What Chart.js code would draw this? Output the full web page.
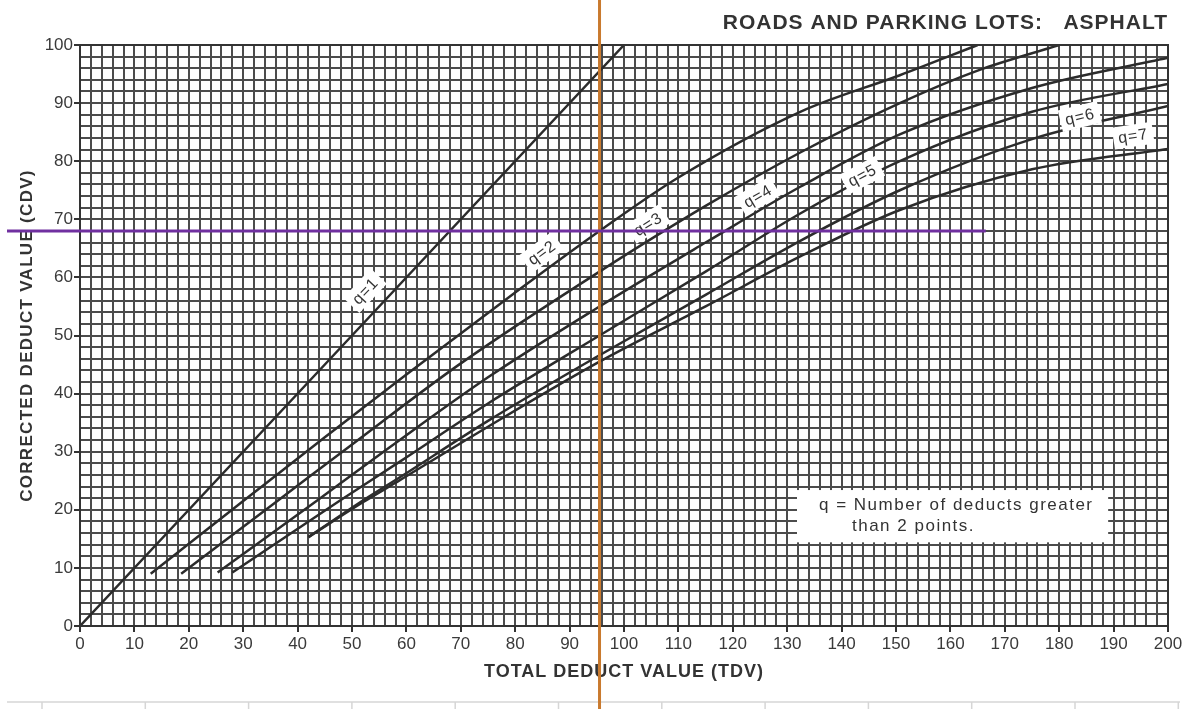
<!DOCTYPE html>
<html>
<head>
<meta charset="utf-8">
<script src="https://cdn.jsdelivr.net/npm/chart.js@4.4.1/dist/chart.umd.min.js"></script>
<style>
  body { margin: 0; background: #fff; }
  #wrap { width: 1204px; height: 709px; position: relative; }
</style>
</head>
<body>
<div id="wrap"><canvas id="mycanvas"></canvas></div>
<script>
// corrected deduct value curves (TDV -> CDV)
var tdvQ1 = [0, 100];
var cdvQ1 = [0, 100];
var tdvQ2 = [13, 30, 45, 60, 80, 95.5, 110, 132.4, 150.7, 165];
var cdvQ2 = [9, 21.5, 32.5, 43.3, 57.4, 68, 77.2, 88.5, 94.8, 100];
var tdvQ3 = [18.6, 36.4, 50.5, 70, 95.5, 115, 132.4, 150.7, 165, 180];
var cdvQ3 = [9, 21.6, 31.6, 45.2, 61, 72.3, 81.5, 90, 95.6, 100];
var tdvQ4 = [25.3, 43.6, 57, 75, 95.5, 115, 132.4, 150.7, 175, 200];
var cdvQ4 = [9.2, 21.6, 30.8, 42.8, 55, 66, 75.6, 84.6, 92.6, 97.8];
var tdvQ5 = [28, 47.8, 58.8, 75, 95.5, 115, 132.4, 150.7, 175, 200];
var cdvQ5 = [9.2, 21.6, 28.3, 38.3, 50, 61, 71, 80, 88.5, 93.3];
var tdvQ6 = [42, 52, 58.8, 75, 95.5, 115, 132.4, 150.7, 175, 200];
var cdvQ6 = [15.3, 21.6, 25.6, 35.3, 46.6, 57, 66.3, 75, 83.8, 89.5];
var tdvQ7 = [42, 52, 58.8, 75, 95.5, 115, 132.4, 150.7, 175, 200];
var cdvQ7 = [15.3, 21.3, 25.1, 34.3, 45.5, 55, 63.6, 71.6, 78.6, 82.1];

var qNames = ['q=1', 'q=2', 'q=3', 'q=4', 'q=5', 'q=6', 'q=7'];
var tdvSets = [tdvQ1, tdvQ2, tdvQ3, tdvQ4, tdvQ5, tdvQ6, tdvQ7];
var cdvSets = [cdvQ1, cdvQ2, cdvQ3, cdvQ4, cdvQ5, cdvQ6, cdvQ7];

// where the curve tags sit (TDV, CDV)
var tagTdv = [52.4, 84.9, 104.4, 124.6, 143.8, 183.8, 193.6];
var tagCdv = [57.7, 64.3, 69.2, 74, 77.6, 87.7, 84.4];

// reading marks drawn over the chart
var markTdv = 95.5;
var markCdv = 68;
var markCdvEnd = 166.5;

var titleText = 'ROADS AND PARKING LOTS:   ASPHALT';
var xTitle = 'TOTAL DEDUCT VALUE (TDV)';
var yTitle = 'CORRECTED DEDUCT VALUE (CDV)';
var noteLines = ['q = Number of deducts greater', 'than 2 points.'];

var FONT = "'Liberation Sans', Arial, Helvetica, sans-serif";

var datasets = [];
for (var i = 0; i < qNames.length; i++) {
  var pts = [];
  for (var j = 0; j < tdvSets[i].length; j++) {
    pts.push({x: tdvSets[i][j], y: cdvSets[i][j]});
  }
  datasets.push({
    label: qNames[i],
    data: pts,
    borderColor: '#2c2c2c',
    borderWidth: 2.5,
    pointRadius: 0,
    fill: false,
    cubicInterpolationMode: 'monotone'
  });
}

function tickLabel(v) {
  return Math.abs(v % 10) < 1e-6 ? v : '';
}

function spacedText(ctx, txt, x, y, spacing) {
  ctx.letterSpacing = spacing + 'px';
  ctx.fillText(txt, x, y);
  ctx.letterSpacing = '0px';
}

var overlay = {
  id: 'overlay',
  beforeDraw: function(chart) {
    var ctx = chart.ctx;
    ctx.save();
    ctx.fillStyle = '#fff';
    ctx.fillRect(0, 0, chart.width, chart.height);
    ctx.restore();
  },
  afterDatasetsDraw: function(chart) {
    var ctx = chart.ctx;
    var xs = chart.scales.x, ys = chart.scales.y;
    var a = chart.chartArea;
    ctx.save();

    // outline of the plot
    ctx.strokeStyle = '#333';
    ctx.lineWidth = 2;
    ctx.strokeRect(a.left, a.top, a.right - a.left, a.bottom - a.top);

    // tags on the curves
    ctx.font = '16px ' + FONT;
    ctx.textAlign = 'center';
    ctx.textBaseline = 'middle';
    for (var i = 0; i < qNames.length; i++) {
      var tx = tdvSets[i], cy = cdvSets[i];
      var k = 0;
      while (k < tx.length - 2 && tx[k + 1] < tagTdv[i]) k++;
      var ang = Math.atan2(ys.getPixelForValue(cy[k + 1]) - ys.getPixelForValue(cy[k]),
                           xs.getPixelForValue(tx[k + 1]) - xs.getPixelForValue(tx[k]));
      var px = xs.getPixelForValue(tagTdv[i]);
      var py = ys.getPixelForValue(tagCdv[i]);
      ctx.save();
      ctx.translate(px, py);
      ctx.rotate(ang);
      ctx.letterSpacing = '1px';
      var w = ctx.measureText(qNames[i]).width;
      ctx.fillStyle = '#fff';
      ctx.fillRect(-w / 2 - 5, -11, w + 10, 22);
      ctx.fillStyle = '#333';
      ctx.fillText(qNames[i], 0, 1);
      ctx.restore();
    }

    // note box
    var bx1 = xs.getPixelForValue(131.8), bx2 = xs.getPixelForValue(189);
    var by1 = ys.getPixelForValue(23.4), by2 = ys.getPixelForValue(14.4);
    ctx.fillStyle = '#fff';
    ctx.fillRect(bx1, by1, bx2 - bx1, by2 - by1);
    ctx.fillStyle = '#333';
    ctx.font = '17px ' + FONT;
    ctx.textAlign = 'left';
    spacedText(ctx, noteLines[0], bx1 + 22, by1 + 15, 1.5);
    spacedText(ctx, noteLines[1], bx1 + 55, by1 + 36, 1.5);

    // titles
    ctx.font = 'bold 21px ' + FONT;
    ctx.textAlign = 'right';
    spacedText(ctx, titleText, a.right, 23, 1);
    ctx.font = 'bold 18px ' + FONT;
    ctx.textAlign = 'center';
    spacedText(ctx, xTitle, (a.left + a.right) / 2, 672, 1);
    ctx.save();
    ctx.translate(27, (a.top + a.bottom) / 2);
    ctx.rotate(-Math.PI / 2);
    ctx.font = 'bold 17px ' + FONT;
    spacedText(ctx, yTitle, 0, 0, 1.3);
    ctx.restore();

    // faint sheet lines under the picture
    ctx.strokeStyle = '#d6d6d6';
    ctx.lineWidth = 1.5;
    ctx.beginPath();
    ctx.moveTo(7, 702);
    ctx.lineTo(1180, 702);
    for (var c = 0; c < 12; c++) {
      var cx = 42 + 103.3 * c;
      ctx.moveTo(cx, 702);
      ctx.lineTo(cx, 709);
    }
    ctx.stroke();

    // reading lines
    var ox = xs.getPixelForValue(markTdv);
    ctx.strokeStyle = '#c97a2e';
    ctx.lineWidth = 3;
    ctx.beginPath();
    ctx.moveTo(ox, 0);
    ctx.lineTo(ox, chart.height);
    ctx.stroke();

    var py2 = ys.getPixelForValue(markCdv);
    ctx.strokeStyle = '#7030a0';
    ctx.beginPath();
    ctx.moveTo(7, py2);
    ctx.lineTo(xs.getPixelForValue(markCdvEnd), py2);
    ctx.stroke();

    ctx.restore();
  }
};

var gridOpts = {
  color: '#4c4c4c',
  lineWidth: 2,
  tickLength: 6,
  tickColor: function(c) { return (c.tick && Math.abs(c.tick.value % 10) < 1e-6) ? '#333' : 'rgba(0,0,0,0)'; }
};

var ctx = document.getElementById('mycanvas');
var chart = new Chart(ctx, {
  type: 'line',
  data: { datasets: datasets },
  options: {
    responsive: true,
    maintainAspectRatio: false,
    animation: false,
    layout: { padding: { top: 45, right: 36, left: 0, bottom: 0 } },
    plugins: {
      legend: { display: false },
      tooltip: { enabled: false }
    },
    scales: {
      x: {
        type: 'linear',
        min: 0,
        max: 200,
        grid: gridOpts,
        border: { display: true, color: '#333', width: 2 },
        ticks: {
          stepSize: 2,
          autoSkip: false,
          maxRotation: 0,
          padding: 2,
          color: '#3a3a3a',
          font: { family: FONT, size: 17 },
          callback: tickLabel
        },
        afterFit: function(s) { s.height = 83; }
      },
      y: {
        type: 'linear',
        min: 0,
        max: 100,
        grid: gridOpts,
        border: { display: true, color: '#333', width: 2 },
        ticks: {
          stepSize: 2,
          autoSkip: false,
          padding: 1,
          color: '#3a3a3a',
          font: { family: FONT, size: 17 },
          callback: tickLabel
        },
        afterFit: function(s) { s.width = 80; }
      }
    }
  },
  plugins: [overlay]
});
</script>
</body>
</html>
